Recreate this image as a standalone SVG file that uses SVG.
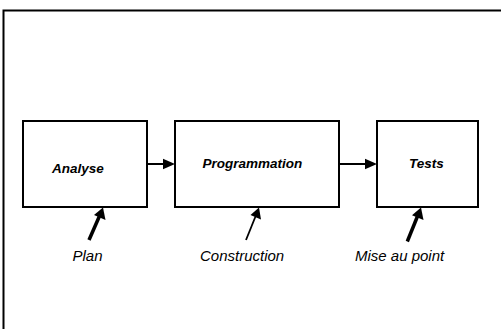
<svg xmlns="http://www.w3.org/2000/svg" width="501" height="329" viewBox="0 0 501 329">
  <style>
    .box { fill: #ffffff; stroke: #000000; stroke-width: 2; }
    .frame { fill: none; stroke: #000000; stroke-width: 2; }
    .title { font-family: "Liberation Sans", Arial, sans-serif; font-size: 13.5px; font-weight: bold; font-style: italic; fill: #000000; }
    .label { font-family: "Liberation Sans", Arial, sans-serif; font-size: 15px; font-style: italic; fill: #000000; }
    .flow { stroke: #000000; stroke-width: 2; fill: none; }
    .input-thick { stroke: #000000; stroke-width: 3.5; fill: none; }
    .input-thin { stroke: #000000; stroke-width: 1.8; fill: none; }
    .head { fill: #000000; stroke: none; }
  </style>

  <rect width="501" height="329" fill="#ffffff"/>

  <!-- outer frame -->
  <path class="frame" d="M3.5,329 V10.5 H501"/>

  <!-- process steps -->
  <g id="analyse">
    <rect class="box" x="23" y="121" width="124" height="86"/>
    <text class="title" x="52" y="172.5">Analyse</text>
  </g>
  <g id="programmation">
    <rect class="box" x="175" y="121" width="164" height="86"/>
    <text class="title" x="202.5" y="168">Programmation</text>
  </g>
  <g id="tests">
    <rect class="box" x="377" y="121" width="101" height="86"/>
    <text class="title" x="409" y="168">Tests</text>
  </g>

  <!-- inputs -->
  <g id="plan">
    <text class="label" x="72.5" y="261">Plan</text>
  </g>
  <g id="construction">
    <text class="label" x="200" y="261">Construction</text>
  </g>
  <g id="mise-au-point">
    <text class="label" x="355" y="261">Mise au point</text>
  </g>

  <!-- connectors -->
  <g id="connectors">
    <!-- Analyse -> Programmation -->
    <line class="flow" x1="147" y1="164" x2="164" y2="164"/>
    <polygon class="head" points="175,164 163,158.7 163,169.3"/>
    <!-- Programmation -> Tests -->
    <line class="flow" x1="339" y1="164" x2="366" y2="164"/>
    <polygon class="head" points="377,164 365,158.7 365,169.3"/>

    <!-- Plan -> Analyse -->
    <line class="input-thick" x1="89" y1="240" x2="99.3" y2="216.5"/>
    <polygon class="head" points="103,207.5 105.5,220 94,215"/>
    <!-- Construction -> Programmation -->
    <line class="input-thin" x1="246" y1="240" x2="255.5" y2="216.5"/>
    <polygon class="head" points="259,207.5 261,219.5 250.5,215"/>
    <!-- Mise au point -> Tests -->
    <line class="input-thick" x1="407.3" y1="241.5" x2="417.4" y2="216.5"/>
    <polygon class="head" points="421,207.5 423.5,220 412,215.3"/>
  </g>
</svg>
